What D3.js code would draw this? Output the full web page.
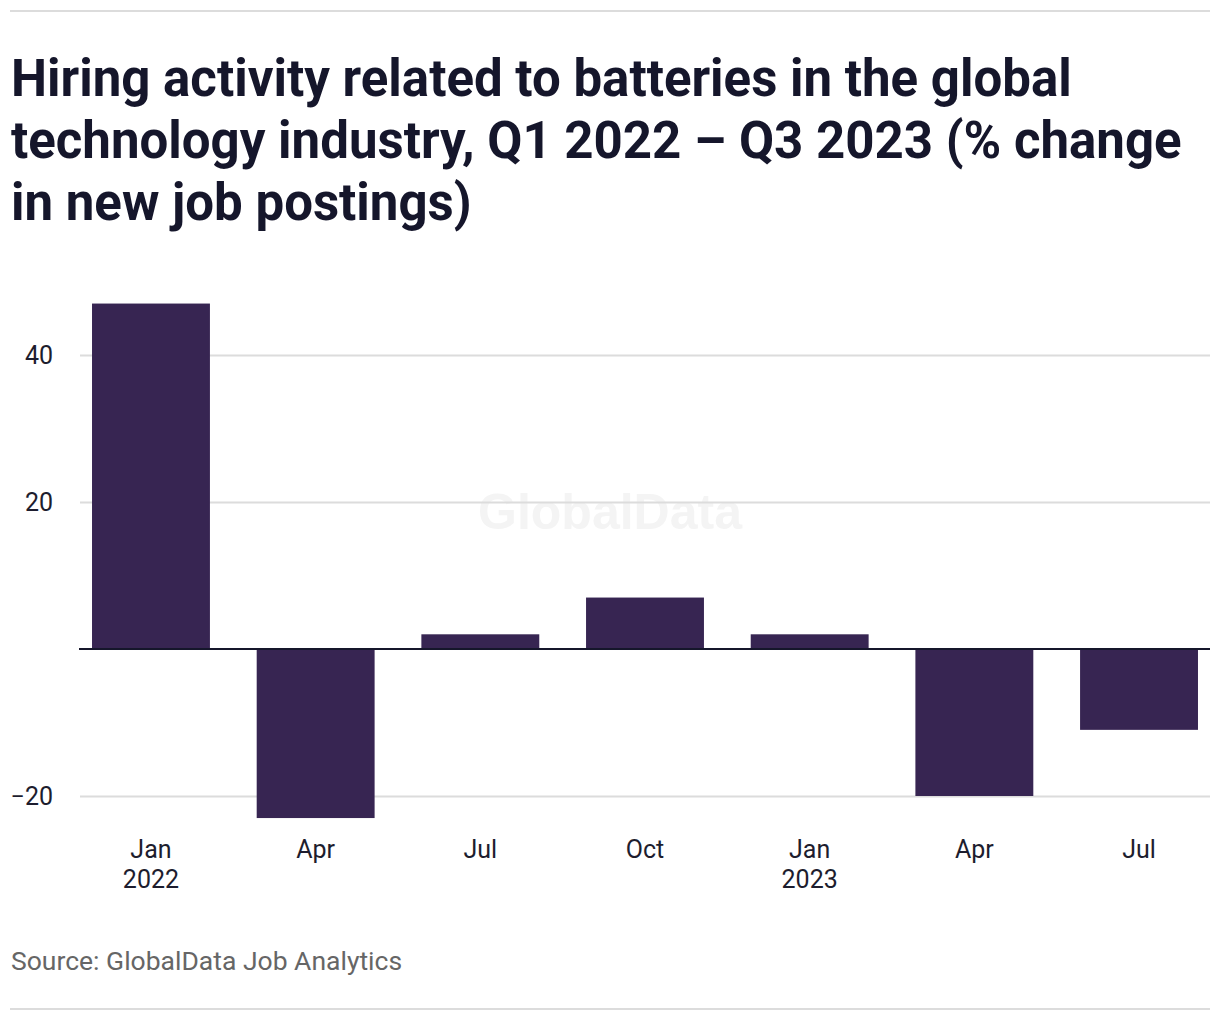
<!DOCTYPE html>
<html>
<head>
<meta charset="utf-8">
<script src="https://cdn.jsdelivr.net/npm/d3@7"></script>
<style>
  body { margin: 0; background: #fff; }
  svg { display: block; }
</style>
</head>
<body>
<div id="chart"></div>
<script>
// data
const quarters = ['2022-01', '2022-04', '2022-07', '2022-10', '2023-01', '2023-04', '2023-07'];
const monthLabels = ['Jan', 'Apr', 'Jul', 'Oct', 'Jan', 'Apr', 'Jul'];
const yearLabels = ['2022', '', '', '', '2023', '', ''];
const changeValues = [47, -23, 2, 7, 2, -20, -11];
const yTicks = [-20, 20, 40];

const titleLines = [
    'Hiring activity related to batteries in the global',
    'technology industry, Q1 2022 \u2013 Q3 2023 (% change',
    'in new job postings)'
];

const width = 1220;
const height = 1020;
const margin = { top: 290, right: 10, bottom: 200, left: 80 };

const svg = d3
    .select('#chart')
    .append('svg')
    .attr('width', width)
    .attr('height', height);

// top and bottom rules
svg.append('line')
    .attr('x1', 10).attr('x2', 1210)
    .attr('y1', 11).attr('y2', 11)
    .attr('stroke', '#dcdcdc').attr('stroke-width', 2);
svg.append('line')
    .attr('x1', 10).attr('x2', 1210)
    .attr('y1', 1009).attr('y2', 1009)
    .attr('stroke', '#dcdcdc').attr('stroke-width', 2);

// title
svg.append('g')
    .selectAll('text')
    .data(titleLines)
    .enter()
    .append('text')
    .attr('x', 11)
    .attr('y', (_, i) => 96 + i * 62)
    .attr('fill', '#15162b')
    .attr('font-family', 'Roboto, sans-serif')
    .attr('font-weight', 700)
    .attr('font-size', 51)
    .text((d) => d);

// scales
const x = d3.scaleBand()
    .domain(quarters)
    .range([margin.left, width - margin.right])
    .paddingInner(0.284)
    .paddingOuter(0.073);

const y = d3.scaleLinear()
    .domain([-20, 40])
    .range([796, 355]);

// watermark
svg.append('text')
    .attr('x', 610)
    .attr('y', 529)
    .attr('text-anchor', 'middle')
    .attr('fill', '#f4f4f4')
    .attr('font-family', 'Liberation Sans, Arial, sans-serif')
    .attr('font-weight', 700)
    .attr('font-size', 50)
    .text('GlobalData');

// gridlines + y labels
const yAxis = d3.axisLeft(y)
    .tickValues(yTicks)
    .tickSize(-(width - margin.right - margin.left))
    .tickFormat((d) => (d < 0 ? '\u2212' + Math.abs(d) : d));

const yg = svg.append('g')
    .attr('transform', `translate(${margin.left},0)`)
    .call(yAxis);
yg.select('.domain').remove();
yg.selectAll('.tick line').attr('stroke', '#dcdcdc').attr('stroke-width', 2);
yg.selectAll('.tick text')
    .attr('x', -27)
    .attr('fill', '#1d1d2e')
    .attr('font-family', 'Roboto, sans-serif')
    .attr('font-size', 25);

// bars
svg.append('g')
    .selectAll('rect')
    .data(changeValues)
    .enter()
    .append('rect')
    .attr('x', (_, i) => x(quarters[i]))
    .attr('width', x.bandwidth())
    .attr('y', (d) => y(Math.max(0, d)))
    .attr('height', (d) => Math.abs(y(d) - y(0)))
    .attr('fill', '#372552');

// zero line
svg.append('line')
    .attr('x1', margin.left - 1)
    .attr('x2', width - margin.right)
    .attr('y1', y(0))
    .attr('y2', y(0))
    .attr('stroke', '#15162b')
    .attr('stroke-width', 2);

// x labels
const xAxis = d3.axisBottom(x).tickSize(0).tickFormat(() => '');
const xg = svg.append('g')
    .attr('transform', 'translate(0,830)')
    .call(xAxis);
xg.select('.domain').remove();

const labels = svg.append('g')
    .attr('fill', '#1d1d2e')
    .attr('font-family', 'Roboto, sans-serif')
    .attr('font-size', 25)
    .attr('text-anchor', 'middle');

labels.selectAll('text.month')
    .data(monthLabels)
    .enter()
    .append('text')
    .attr('class', 'month')
    .attr('x', (_, i) => x(quarters[i]) + x.bandwidth() / 2)
    .attr('y', 858)
    .text((d) => d);

labels.selectAll('text.year')
    .data(yearLabels)
    .enter()
    .append('text')
    .attr('class', 'year')
    .attr('x', (_, i) => x(quarters[i]) + x.bandwidth() / 2)
    .attr('y', 888)
    .text((d) => d);

// source
svg.append('text')
    .attr('x', 11)
    .attr('y', 970)
    .attr('fill', '#666')
    .attr('font-family', 'Roboto, sans-serif')
    .attr('font-size', 26.5)
    .text('Source: GlobalData Job Analytics');
</script>
</body>
</html>
